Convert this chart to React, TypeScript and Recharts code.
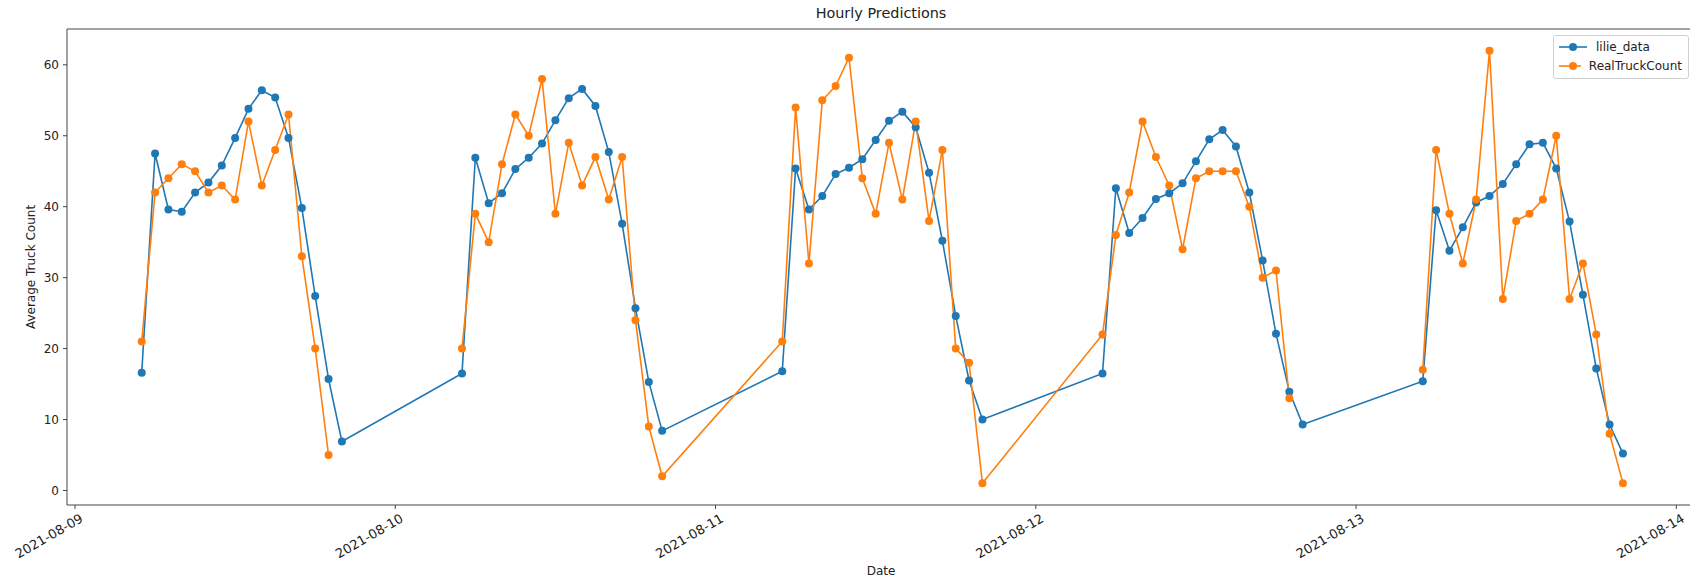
import React from 'react';
import { LineChart, Line, XAxis, YAxis, Legend, ReferenceLine } from 'recharts';

const days = ['2021-08-09', '2021-08-10', '2021-08-11', '2021-08-12', '2021-08-13'];
const hours = [5, 6, 7, 8, 9, 10, 11, 12, 13, 14, 15, 16, 17, 18, 19, 20];
const xTickDates = ['2021-08-09', '2021-08-10', '2021-08-11', '2021-08-12', '2021-08-13', '2021-08-14'];
const yTicks = [0, 10, 20, 30, 40, 50, 60];

const lilieDay1 = [16.6, 47.5, 39.6, 39.3, 42.0, 43.4, 45.8, 49.7, 53.8, 56.4, 55.4, 49.7, 39.8, 27.4, 15.7, 6.9];
const lilieDay2 = [16.5, 46.9, 40.5, 41.9, 45.3, 46.9, 48.9, 52.2, 55.3, 56.6, 54.2, 47.7, 37.6, 25.7, 15.3, 8.4];
const lilieDay3 = [16.8, 45.4, 39.6, 41.5, 44.6, 45.5, 46.7, 49.4, 52.1, 53.4, 51.2, 44.8, 35.2, 24.6, 15.5, 10.0];
const lilieDay4 = [16.5, 42.6, 36.3, 38.4, 41.1, 41.9, 43.3, 46.4, 49.5, 50.8, 48.5, 42.0, 32.4, 22.1, 13.9, 9.3];
const lilieDay5 = [15.4, 39.5, 33.8, 37.1, 40.6, 41.5, 43.2, 46.0, 48.8, 49.0, 45.4, 37.9, 27.6, 17.2, 9.3, 5.2];

const realDay1 = [21, 42, 44, 46, 45, 42, 43, 41, 52, 43, 48, 53, 33, 20, 5, null];
const realDay2 = [20, 39, 35, 46, 53, 50, 58, 39, 49, 43, 47, 41, 47, 24, 9, 2];
const realDay3 = [21, 54, 32, 55, 57, 61, 44, 39, 49, 41, 52, 38, 48, 20, 18, 1];
const realDay4 = [22, 36, 42, 52, 47, 43, 34, 44, 45, 45, 45, 40, 30, 31, 13, null];
const realDay5 = [17, 48, 39, 32, 41, 62, 27, 38, 39, 41, 50, 27, 32, 22, 8, 1];

const lilieByDay = [lilieDay1, lilieDay2, lilieDay3, lilieDay4, lilieDay5];
const realByDay = [realDay1, realDay2, realDay3, realDay4, realDay5];

const HOUR = 3600 * 1000;
const data: { t: number; lilie: number | null; real: number | null }[] = [];
days.forEach((d, di) => {
  const base = new Date(d + 'T00:00:00Z').getTime();
  hours.forEach((h, hi) => {
    data.push({ t: base + h * HOUR, lilie: lilieByDay[di][hi], real: realByDay[di][hi] });
  });
});

const xTicks = xTickDates.map((d) => new Date(d + 'T00:00:00Z').getTime());
const xDomain = [xTicks[0] - 0.6 * HOUR, xTicks[xTicks.length - 1] + 1.4 * HOUR];
const yDomain = [-2.05, 65.05];

const BLUE = '#1f77b4';
const ORANGE = '#ff7f0e';
const FONT = '"DejaVu Sans", sans-serif';
const TXT = '#222';

const fmtDate = (v: number) => {
  const dt = new Date(v);
  const m = String(dt.getUTCMonth() + 1).padStart(2, '0');
  const d = String(dt.getUTCDate()).padStart(2, '0');
  return `${dt.getUTCFullYear()}-${m}-${d}`;
};

const DateTick = (props: any) => {
  const { x, y, payload } = props;
  return (
    <g transform={`translate(${x + 9},${y + 10}) rotate(-30)`}>
      <text x={0} y={0} textAnchor="end" fontSize={13} fontFamily={FONT} fill={TXT}>
        {fmtDate(payload.value)}
      </text>
    </g>
  );
};

const legendItems = [
  { name: 'lilie_data', color: BLUE },
  { name: 'RealTruckCount', color: ORANGE },
];

const LegendBox = () => (
  <div
    style={{
      border: '1px solid #d0d0d0',
      borderRadius: 3,
      background: 'rgba(255,255,255,0.8)',
      padding: '2px 6px 3px 4px',
      fontFamily: FONT,
      fontSize: 12,
      color: TXT,
      boxSizing: 'border-box',
    }}
  >
    {legendItems.map((it) => (
      <div key={it.name} style={{ display: 'flex', alignItems: 'center', height: 18.6 }}>
        <svg width={30} height={12} style={{ marginRight: 8 }}>
          <line x1={1} y1={6} x2={29} y2={6} stroke={it.color} strokeWidth={1.6} />
          <circle cx={15} cy={6} r={4} fill={it.color} />
        </svg>
        <span>{it.name}</span>
      </div>
    ))}
  </div>
);

export default function App() {
  return (
    <div style={{ position: 'absolute', left: 0, top: 0, width: 1690, height: 584, overflow: 'hidden', background: '#fff' }}>
      <div
        style={{
          position: 'absolute',
          left: 0,
          width: 1762,
          top: 4,
          textAlign: 'center',
          fontFamily: FONT,
          fontSize: 14.4,
          color: TXT,
          lineHeight: '18px',
          zIndex: 2,
        }}
      >
        Hourly Predictions
      </div>
      <LineChart width={1710} height={584} data={data} margin={{ top: 29, right: 15, bottom: 9, left: 27 }}>
        <XAxis
          dataKey="t"
          type="number"
          scale="linear"
          domain={xDomain}
          ticks={xTicks}
          allowDataOverflow
          tick={<DateTick />}
          tickSize={4}
          tickMargin={2}
          height={70}
          interval={0}
          stroke="#444"
          tickLine={{ stroke: '#444' }}
          label={{
            content: (p: any) => (
              <text
                x={p.viewBox.x + p.viewBox.width / 2}
                y={575}
                textAnchor="middle"
                fontSize={12}
                fontFamily={FONT}
                fill={TXT}
              >
                Date
              </text>
            ),
          }}
        />
        <YAxis
          type="number"
          domain={yDomain}
          ticks={yTicks}
          allowDataOverflow
          width={40}
          tickSize={4}
          tickMargin={4}
          stroke="#444"
          tick={{ fontSize: 12, fontFamily: FONT, fill: TXT }}
          label={{
            content: (p: any) => (
              <text
                x={31}
                y={p.viewBox.y + p.viewBox.height / 2}
                textAnchor="middle"
                dominantBaseline="central"
                transform={`rotate(-90 31 ${p.viewBox.y + p.viewBox.height / 2})`}
                fontSize={12}
                fontFamily={FONT}
                fill={TXT}
              >
                Average Truck Count
              </text>
            ),
          }}
        />
        <ReferenceLine y={yDomain[1]} stroke="#444" strokeWidth={1} ifOverflow="visible" />
        <Line
          dataKey="lilie"
          name="lilie_data"
          stroke={BLUE}
          strokeWidth={1.6}
          dot={{ r: 4, fill: BLUE, stroke: BLUE, strokeWidth: 0 }}
          isAnimationActive={false}
          connectNulls={false}
        />
        <Line
          dataKey="real"
          name="RealTruckCount"
          stroke={ORANGE}
          strokeWidth={1.6}
          dot={{ r: 4, fill: ORANGE, stroke: ORANGE, strokeWidth: 0 }}
          isAnimationActive={false}
          connectNulls={false}
        />
        <Legend
          layout="horizontal"
          verticalAlign="middle"
          align="center"
          content={<LegendBox />}
          wrapperStyle={{ position: 'absolute', left: 1553, top: 35, width: 136, height: 42 }}
        />
      </LineChart>
    </div>
  );
}
